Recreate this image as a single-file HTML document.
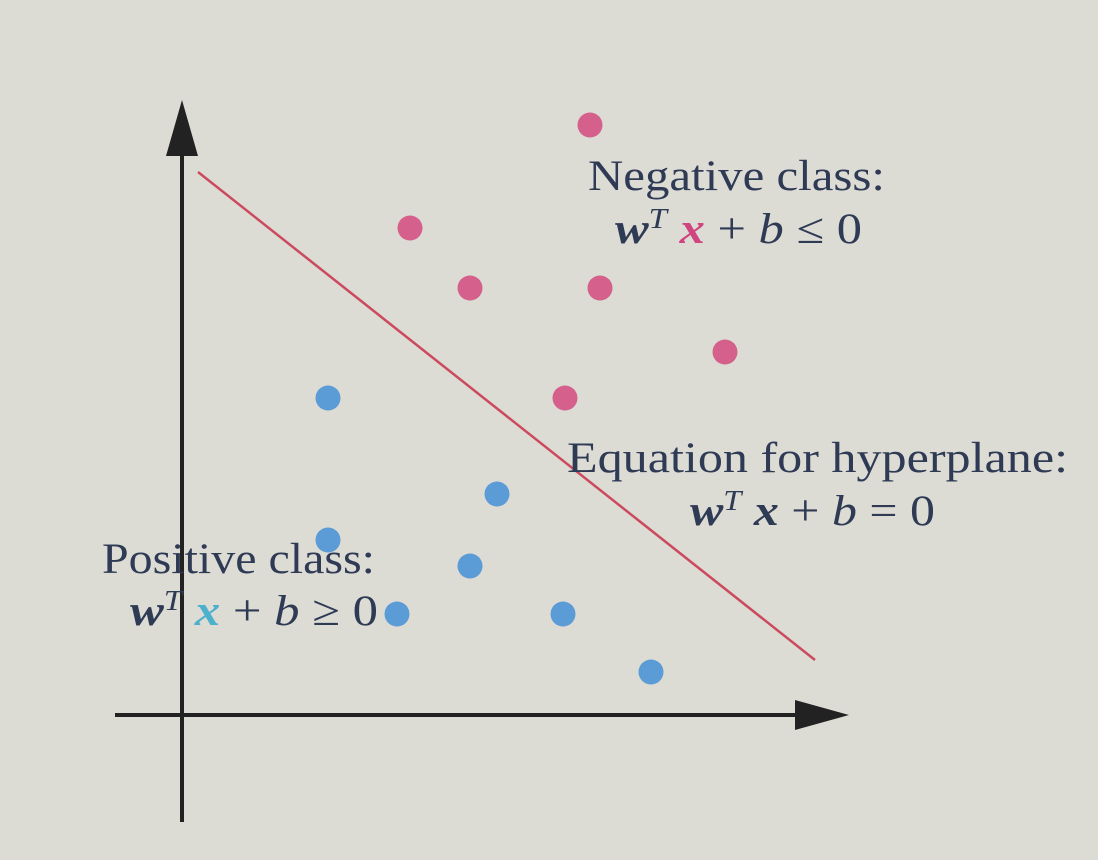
<!DOCTYPE html>
<html><head><meta charset="utf-8"><style>
html,body{margin:0;padding:0;background:#dcdcd5;}
svg{display:block}
text{font-family:"Liberation Serif",serif;fill:#2f3a55;}
</style></head><body>
<svg id="chart" width="1098" height="860" viewBox="0 0 1098 860">
<rect width="1098" height="860" fill="#dcdcd5"/>
<g id="axes">
<line x1="182" y1="822" x2="182" y2="140" stroke="#222" stroke-width="4"/>
<polygon points="182,100 166,156 198,156" fill="#222"/>
<line x1="115" y1="715" x2="805" y2="715" stroke="#222" stroke-width="4"/>
<polygon points="849,715 795,700 795,730" fill="#222"/>
</g>
<g id="marks"></g>
<text x="588" y="190" font-size="43" textLength="297" lengthAdjust="spacingAndGlyphs">Negative class:</text>
<text x="615" y="243" font-size="43" textLength="247" lengthAdjust="spacingAndGlyphs"><tspan font-weight="bold" font-style="italic">w</tspan><tspan font-style="italic" font-size="28" dy="-15">T</tspan><tspan dy="15" font-weight="bold" font-style="italic" fill="#d0457f"> x</tspan> + <tspan font-style="italic">b</tspan> ≤ 0</text>
<text x="567" y="472" font-size="43" textLength="501" lengthAdjust="spacingAndGlyphs">Equation for hyperplane:</text>
<text x="690" y="525" font-size="43" textLength="245" lengthAdjust="spacingAndGlyphs"><tspan font-weight="bold" font-style="italic">w</tspan><tspan font-style="italic" font-size="28" dy="-15">T</tspan><tspan dy="15" font-weight="bold" font-style="italic"> x</tspan> + <tspan font-style="italic">b</tspan> = 0</text>
<text x="102" y="573" font-size="43" textLength="273" lengthAdjust="spacingAndGlyphs">Positive class:</text>
<text x="130" y="625" font-size="43" textLength="248" lengthAdjust="spacingAndGlyphs"><tspan font-weight="bold" font-style="italic">w</tspan><tspan font-style="italic" font-size="28" dy="-15">T</tspan><tspan dy="15" font-weight="bold" font-style="italic" fill="#4db0cc"> x</tspan> + <tspan font-style="italic">b</tspan> ≥ 0</text>
</svg>
<script>
const negX=[408,228,288,418,543,383];
const negY=[590,487,427,427,363,317];
const posX=[146,315,146,288,215,381,469];
const posY=[317,221,175,149,101,101,43];
const lineX=[16,633];
const lineY=[543,55];
const ox=182, oy=715;
function sx(v){return ox+v;}
function sy(v){return oy-v;}
const NS='http://www.w3.org/2000/svg';
const g=document.getElementById('marks');
const ln=document.createElementNS(NS,'line');
ln.setAttribute('x1',sx(lineX[0]));ln.setAttribute('y1',sy(lineY[0]));
ln.setAttribute('x2',sx(lineX[1]));ln.setAttribute('y2',sy(lineY[1]));
ln.setAttribute('stroke','#cc4a5e');ln.setAttribute('stroke-width','2.5');


g.appendChild(ln);
function dot(x,y,c,name){
  const d=document.createElementNS(NS,'circle');
  d.setAttribute('cx',sx(x));d.setAttribute('cy',sy(y));d.setAttribute('r',12.5);d.setAttribute('fill',c);
  
  
  g.appendChild(d);
}
negX.forEach((x,i)=>dot(x,negY[i],'#d4608b','negative-point'));
posX.forEach((x,i)=>dot(x,posY[i],'#5b9bd6','positive-point'));
</script>
</body></html>
